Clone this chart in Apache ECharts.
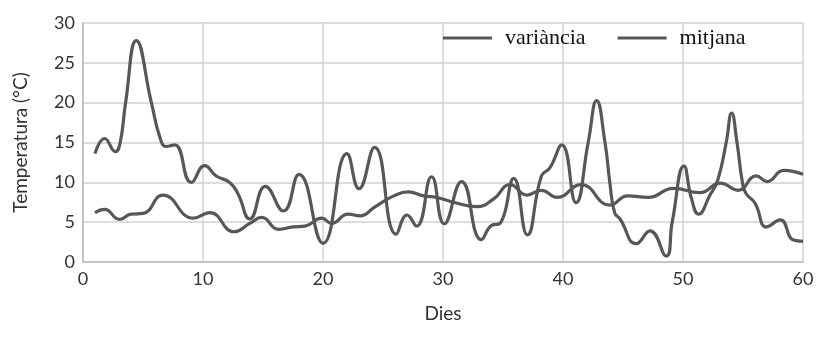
<!DOCTYPE html>
<html>
<head>
<meta charset="utf-8">
<script src="https://cdn.jsdelivr.net/npm/echarts@6/dist/echarts.min.js"></script>
<style>
html,body{margin:0;padding:0;background:#fff;}
#chart{width:823px;height:343px;}
</style>
</head>
<body>
<div id="chart"></div>
<script>
// Data
const xTicks = [0, 10, 20, 30, 40, 50, 60];
const yTicks = [0, 5, 10, 15, 20, 25, 30];
const seriesNames = ['variància', 'mitjana'];

const variancaDays = [1.0, 1.8, 2.7, 3.1, 3.55, 4.44, 5.7, 6.4, 6.94, 7.64, 9.03, 10.14, 11.1, 12.2, 12.9, 13.9, 15.2, 16.7, 18.0, 20.0, 22.0, 23.0, 24.3, 26.1, 27.0, 27.8, 29.05, 30.1, 31.55, 33.2, 34.05, 34.75, 35.9, 37.03, 38.2, 38.9, 39.9, 41.08, 42.1, 42.8, 43.5, 43.9, 44.3, 44.75, 46.1, 47.25, 48.6, 49.1, 50.08, 50.7, 51.3, 52.25, 52.9, 53.6, 54.05, 54.5, 54.95, 55.25, 56.0, 56.97, 58.1, 59.2, 60.0];
const variancaVals = [13.6, 15.5, 13.85, 15.0, 20.0, 27.8, 20.0, 15.7, 14.5, 14.7, 10.0, 12.1, 10.8, 10.0, 8.6, 5.4, 9.5, 6.4, 11.0, 2.35, 13.6, 9.2, 14.4, 3.5, 5.9, 4.5, 10.7, 4.8, 10.1, 2.8, 4.6, 4.85, 10.5, 3.4, 10.8, 11.8, 14.7, 7.45, 15.0, 20.25, 15.0, 10.0, 6.2, 5.4, 2.3, 3.9, 0.75, 5.0, 12.05, 8.0, 6.0, 8.4, 10.3, 15.0, 18.7, 15.0, 10.0, 8.6, 7.4, 4.4, 5.3, 2.75, 2.6];

const mitjanaDays = [1.0, 1.8, 3.05, 4.0, 5.0, 6.67, 9.2, 10.55, 12.6, 13.9, 14.9, 16.3, 17.5, 18.5, 19.9, 20.7, 22.1, 23.1, 24.3, 25.9, 27.1, 28.4, 29.5, 31.1, 32.8, 34.2, 35.6, 37.0, 38.2, 39.5, 41.5, 43.9, 45.4, 47.1, 49.2, 51.4, 53.1, 54.6, 56.1, 57.0, 58.4, 60.0];
const mitjanaVals = [6.2, 6.6, 5.35, 6.0, 6.1, 8.4, 5.5, 6.2, 3.8, 4.85, 5.6, 4.1, 4.4, 4.5, 5.5, 4.85, 6.0, 5.8, 6.9, 8.3, 8.8, 8.3, 8.1, 7.4, 6.95, 7.9, 9.7, 8.4, 9.0, 8.1, 9.7, 7.15, 8.3, 8.1, 9.25, 8.7, 9.9, 9.0, 10.8, 10.1, 11.5, 11.0];

const pairs = (xs, ys) => xs.map((x, i) => [x, ys[i]]);
const lineColor = '#575757';
const gridColor = '#d2d2d2';
const labelFont = 'Lato';

const chart = echarts.init(document.getElementById('chart'), null, {renderer: 'canvas'});
chart.setOption({
  animation: false,
  backgroundColor: '#fff',
  grid: {left: 83, right: 20, top: 23, bottom: 81, containLabel: false},
  legend: {
    data: seriesNames,
    icon: 'rect',
    left: 437,
    top: 24,
    padding: [3, 6],
    itemWidth: 49,
    itemHeight: 3,
    itemGap: 32,
    textStyle: {fontFamily: 'Liberation Serif', fontSize: 22, color: '#111', padding: [0, 0, 0, 8]}
  },
  xAxis: {
    type: 'value',
    min: xTicks[0], max: xTicks[xTicks.length - 1], interval: 10,
    name: 'Dies', nameLocation: 'middle', nameGap: 42,
    nameTextStyle: {fontFamily: labelFont, fontSize: 19, color: '#333'},
    axisLine: {show: true, lineStyle: {color: '#c4c4c4', width: 2}},
    axisTick: {show: false},
    axisLabel: {fontFamily: labelFont, fontSize: 18, color: '#333', margin: 8},
    splitLine: {show: true, lineStyle: {color: gridColor, width: 1.5}}
  },
  yAxis: {
    type: 'value',
    min: yTicks[0], max: yTicks[yTicks.length - 1], interval: 5,
    name: 'Temperatura (°C)', nameLocation: 'middle', nameGap: 53,
    nameTextStyle: {fontFamily: labelFont, fontSize: 19, color: '#333'},
    axisLine: {show: true, lineStyle: {color: '#c4c4c4', width: 2}},
    axisTick: {show: false},
    axisLabel: {fontFamily: labelFont, fontSize: 18, color: '#333', margin: 8},
    splitLine: {show: true, lineStyle: {color: gridColor, width: 1.5}}
  },
  series: [
    {
      name: seriesNames[0], type: 'line', smooth: 0.5, symbol: 'none',
      data: pairs(variancaDays, variancaVals),
      lineStyle: {color: lineColor, width: 3.2}, itemStyle: {color: lineColor}
    },
    {
      name: seriesNames[1], type: 'line', smooth: 0.5, symbol: 'none',
      data: pairs(mitjanaDays, mitjanaVals),
      lineStyle: {color: lineColor, width: 3.2}, itemStyle: {color: lineColor}
    }
  ]
});
</script>
</body>
</html>
